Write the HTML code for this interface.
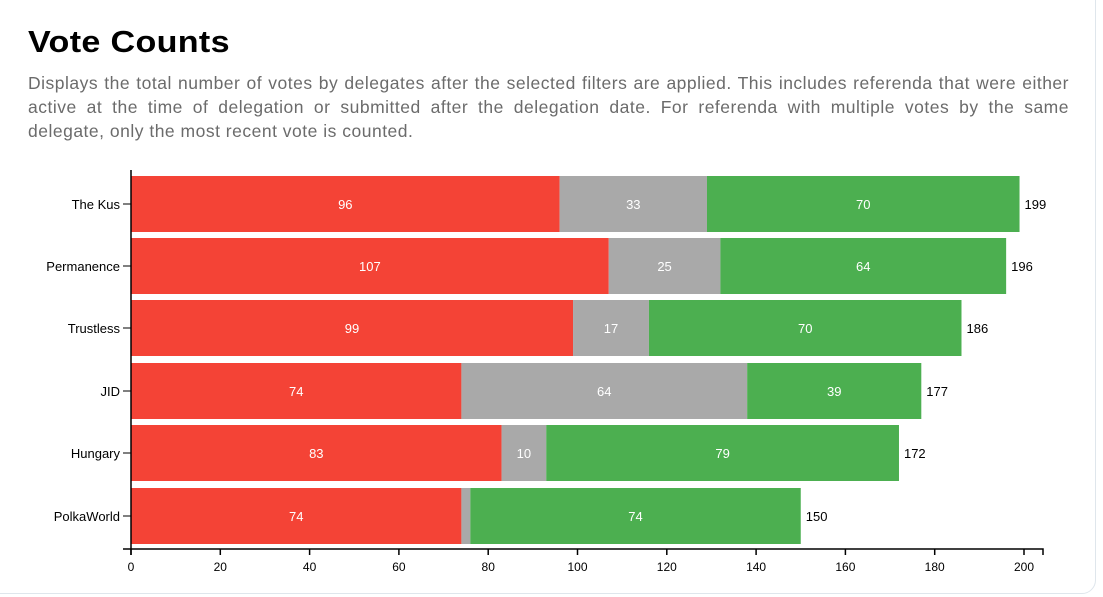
<!DOCTYPE html>
<html><head><style>
body{margin:0;width:1103px;height:597px;background:#fff;overflow:hidden;font-family:"Liberation Sans",sans-serif;position:relative}
.card{position:absolute;left:-20px;top:-20px;width:1114px;height:612px;border:1px solid #dfe6ec;border-radius:14px}
h1{position:absolute;left:28px;top:24px;margin:0;font-size:31px;font-weight:bold;letter-spacing:0.3px;transform:scaleX(1.1);transform-origin:left;color:#000}
.p{position:absolute;left:28px;top:71px;width:1041px;font-size:17.5px;letter-spacing:0.5px;line-height:24px;color:#6b6b6b}
.p div{white-space:nowrap;text-align:justify;text-align-last:justify}
.p div.l{text-align-last:left}
svg{position:absolute;left:0;top:0}
</style></head><body>
<div class="card"></div>
<h1>Vote Counts</h1>
<div class="p"><div>Displays the total number of votes by delegates after the selected filters are applied. This includes referenda that were either</div><div>active at the time of delegation or submitted after the delegation date. For referenda with multiple votes by the same</div><div class="l">delegate, only the most recent vote is counted.</div></div>
<svg width="1103" height="597" font-family="Liberation Sans, sans-serif" font-size="13">
<g id="bars"></g>
</svg>
<script>
const d=[["The Kus",96,33,70,176],["Permanence",107,25,64,238],["Trustless",99,17,70,300],["JID",74,64,39,363],["Hungary",83,10,79,425],["PolkaWorld",74,2,74,488]];
const s=4.465,x0=131,h=56;let o="";
for(const [n,a,b,c,y] of d){
 const xa=x0+a*s,xb=xa+b*s,xc=xb+c*s;
 o+=`<rect x="${x0}" y="${y}" width="${a*s}" height="${h}" fill="#f44336"/>`;
 o+=`<rect x="${xa}" y="${y}" width="${b*s}" height="${h}" fill="#a9a9a9"/>`;
 o+=`<rect x="${xb}" y="${y}" width="${c*s}" height="${h}" fill="#4caf50"/>`;
 const cy=y+h/2+5;
 o+=`<text x="${(x0+xa)/2}" y="${cy}" fill="#fff" text-anchor="middle">${a}</text>`;
 if(b>5)o+=`<text x="${(xa+xb)/2}" y="${cy}" fill="#fff" text-anchor="middle">${b}</text>`;
 o+=`<text x="${(xb+xc)/2}" y="${cy}" fill="#fff" text-anchor="middle">${c}</text>`;
 o+=`<text x="${xc+5}" y="${cy}" fill="#000">${a+b+c}</text>`;
 o+=`<line x1="123" x2="131" y1="${y+h/2}" y2="${y+h/2}" stroke="#000"/>`;
 o+=`<text x="120" y="${cy}" fill="#000" text-anchor="end">${n}</text>`;
}
o+=`<path d="M123,549H1043V555M131,170V555" stroke="#000" stroke-width="1.5" fill="none"/>`;
for(let v=0;v<=200;v+=20){const x=x0+v*s;o+=`<line x1="${x}" x2="${x}" y1="549" y2="555" stroke="#000" stroke-width="1.5"/><text x="${x}" y="571" text-anchor="middle" font-size="12">${v}</text>`;}
document.getElementById("bars").innerHTML=o;
</script>
</body></html>
